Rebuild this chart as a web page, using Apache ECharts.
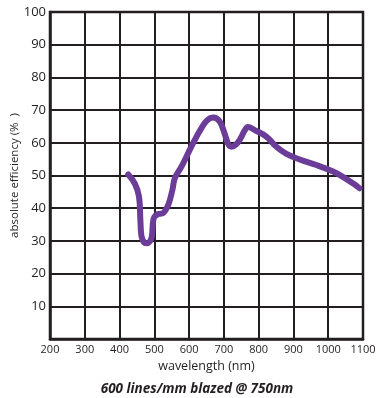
<!DOCTYPE html>
<html>
<head>
<meta charset="utf-8">
<script src="https://cdn.jsdelivr.net/npm/echarts@6/dist/echarts.min.js"></script>
<style>
  html, body { margin: 0; padding: 0; background: #fff; }
  #chart { width: 376px; height: 398px; }
</style>
</head>
<body>
<div id="chart"></div>
<script>
// efficiency curve
const wavelength = [425, 444, 456, 460, 463, 470, 478, 488, 493, 496, 500, 511, 525, 540, 552, 559, 578, 597, 616, 635, 652, 669, 688, 703, 713, 722, 733, 746, 760, 769, 790, 822, 851, 880, 918, 966, 1014, 1042, 1071, 1090]
const efficiency = [50.3, 47.5, 43.5, 36, 31.5, 29.6, 29.3, 30, 31.5, 35.5, 37.3, 38.2, 38.5, 41, 45.6, 49.2, 52.7, 56.8, 60.8, 64.4, 66.9, 67.7, 66.5, 62.5, 59.5, 58.8, 59.3, 61, 63.8, 64.8, 63.8, 61.9, 58.8, 56.6, 54.9, 53.2, 51.2, 49.6, 47.6, 46.1]
const xTicks = [200, 1100, 100]   // min, max, step
const yTicks = [0, 100, 10]

const INK = '#231f20'
const chart = echarts.init(document.getElementById('chart'))

chart.setOption({
  backgroundColor: '#fff',
  animation: false,
  title: {
    text: '600 lines/mm blazed @ 750nm',
    left: 192, top: 377, textAlign: 'center',
    textStyle: { fontFamily: 'Open Sans', fontSize: 13.5, fontWeight: 'bold', fontStyle: 'italic', color: INK },
  },
  grid: {
    left: 50, right: 13, top: 12, bottom: 59,
    outerBoundsMode: 'none',
    show: true, borderColor: INK, borderWidth: 2.5,
  },
  xAxis: {
    type: 'value',
    min: xTicks[0], max: xTicks[1], interval: xTicks[2],
    name: 'wavelength (nm)', nameLocation: 'middle', nameGap: 21, nameMoveOverlap: false,
    nameTextStyle: { fontFamily: 'Open Sans', fontSize: 12.5, color: INK },
    axisLine: { show: true, lineStyle: { color: INK, width: 2.5 } },
    axisTick: { show: false },
    axisLabel: { color: INK, fontFamily: 'Open Sans', fontSize: 11, margin: 5, formatter: v => String(v) },
    splitLine: { show: true, lineStyle: { color: INK, width: 2 } },
  },
  yAxis: {
    type: 'value',
    min: yTicks[0], max: yTicks[1], interval: yTicks[2],
    name: 'absolute efficiency (%  )', nameLocation: 'middle', nameGap: 29, nameMoveOverlap: false,
    nameTextStyle: { fontFamily: 'Open Sans', fontSize: 11.5, color: INK },
    axisLine: { show: true, lineStyle: { color: INK, width: 2.5 } },
    axisTick: { show: false },
    axisLabel: {
      color: INK, fontFamily: 'Open Sans', fontSize: 13, margin: 4,
      formatter: v => (v === 0 ? '' : String(v)),
    },
    splitLine: { show: true, lineStyle: { color: INK, width: 2 } },
  },
  series: [{
    type: 'line',
    data: wavelength.map((w, i) => [w, efficiency[i]]),
    smooth: 0.4,
    showSymbol: false,
    lineStyle: { color: '#6b3d99', width: 6, cap: 'round', join: 'round' },
  }],
})
</script>
</body>
</html>
